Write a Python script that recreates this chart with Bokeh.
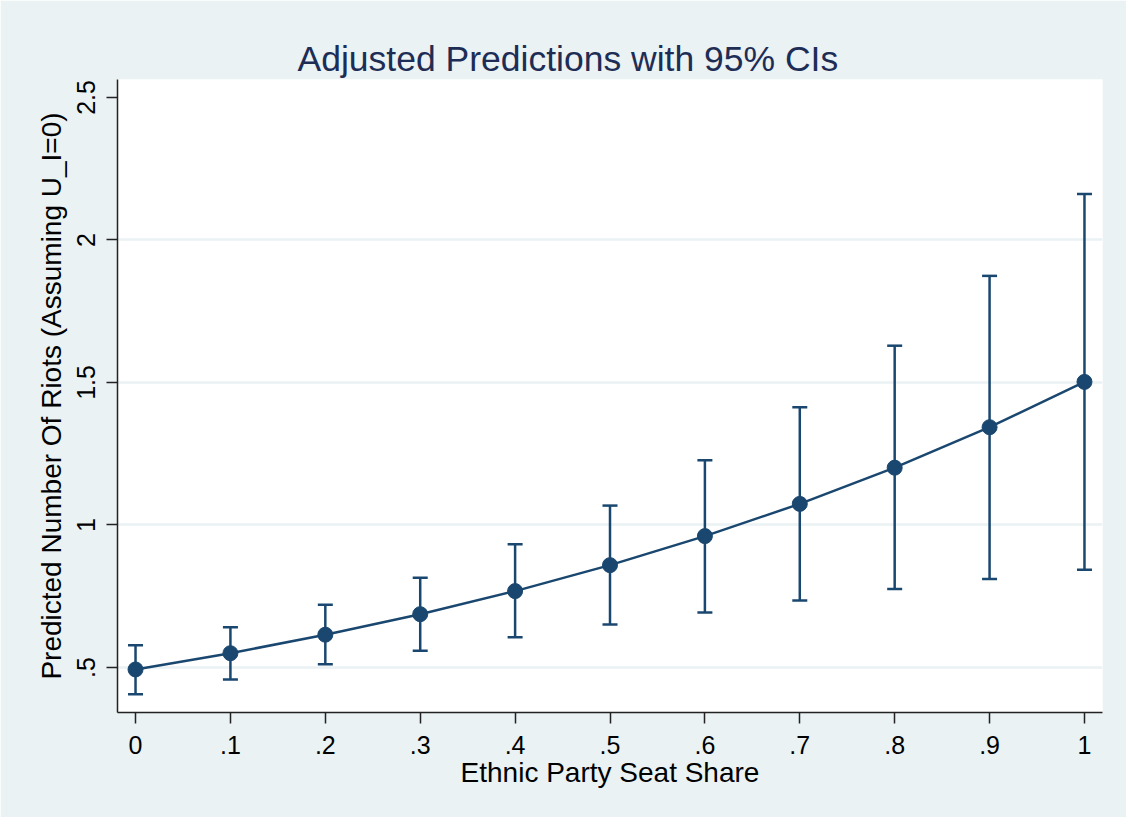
from bokeh.plotting import figure
from bokeh.models import ColumnDataSource, Whisker, TeeHead, FixedTicker, Title
from bokeh.embed import file_html
from bokeh.resources import INLINE

seat_share = [0.0, 0.1, 0.2, 0.3, 0.4, 0.5, 0.6, 0.7, 0.8, 0.9, 1.0]
predicted = [0.493, 0.550, 0.615, 0.687, 0.768, 0.859, 0.961, 1.074, 1.201, 1.343, 1.502]
ci_lower = [0.406, 0.458, 0.511, 0.559, 0.606, 0.651, 0.693, 0.735, 0.775, 0.810, 0.843]
ci_upper = [0.578, 0.641, 0.720, 0.815, 0.932, 1.068, 1.227, 1.413, 1.629, 1.874, 2.161]

x_ticks = [0.0, 0.1, 0.2, 0.3, 0.4, 0.5, 0.6, 0.7, 0.8, 0.9, 1.0]
x_tick_labels = ["0", ".1", ".2", ".3", ".4", ".5", ".6", ".7", ".8", ".9", "1"]
y_ticks = [0.5, 1.0, 1.5, 2.0, 2.5]
y_tick_labels = [".5", "1", "1.5", "2", "2.5"]
y_grid = [0.5, 1.0, 1.5, 2.0]

NAVY = "#1A476F"
BG = "#EAF2F3"
FONT = "Liberation Sans"

src = ColumnDataSource(dict(x=seat_share, y=predicted, lo=ci_lower, hi=ci_upper))

p = figure(width=1126, height=817, output_backend="svg", toolbar_location=None,
           x_range=(-0.019, 1.019), y_range=(0.342, 2.563),
           min_border_left=117, min_border_right=24, min_border_top=79, min_border_bottom=105)
p.background_fill_color = "white"
p.border_fill_color = BG
p.outline_line_color = None

t = Title(text="Adjusted Predictions with 95% CIs", align="left", offset=180,
          text_font=FONT, text_font_size="35.5px", text_font_style="normal",
          text_color="#1E2D55", standoff=2)
p.add_layout(t, "above")

w = Whisker(source=src, base="x", lower="lo", upper="hi",
            line_color=NAVY, line_width=2.5,
            upper_head=TeeHead(size=15, line_color=NAVY, line_width=2.5),
            lower_head=TeeHead(size=15, line_color=NAVY, line_width=2.5))
p.add_layout(w)
p.line("x", "y", source=src, line_color=NAVY, line_width=2.5)
p.scatter("x", "y", source=src, size=15, fill_color=NAVY, line_color=NAVY)

p.xaxis.ticker = FixedTicker(ticks=x_ticks)
p.xaxis.major_label_overrides = {v: s for v, s in zip(x_ticks, x_tick_labels)}
p.yaxis.ticker = FixedTicker(ticks=y_ticks)
p.yaxis.major_label_overrides = {v: s for v, s in zip(y_ticks, y_tick_labels)}
p.yaxis.major_label_orientation = "vertical"

for ax in (p.xaxis, p.yaxis):
    ax.axis_line_color = "#222222"
    ax.axis_line_width = 1.5
    ax.major_tick_line_color = "#222222"
    ax.major_tick_line_width = 1.5
    ax.major_tick_out = 11
    ax.major_tick_in = 0
    ax.minor_tick_line_color = None
    ax.major_label_text_font = FONT
    ax.major_label_text_font_size = "25px"
    ax.major_label_text_color = "black"
    ax.axis_label_text_font = FONT
    ax.axis_label_text_font_size = "28px"
    ax.axis_label_text_font_style = "normal"
    ax.axis_label_text_color = "black"

p.xaxis.major_label_standoff = 12
p.yaxis.major_label_standoff = 11
p.xaxis.axis_label = "Ethnic Party Seat Share"
p.yaxis.axis_label = "Predicted Number Of Riots (Assuming U_I=0)"
p.xaxis.axis_label_standoff = 0
p.yaxis.axis_label_standoff = 8

p.xgrid.grid_line_color = None
p.ygrid.ticker = FixedTicker(ticks=y_grid)
p.ygrid.grid_line_color = BG
p.ygrid.grid_line_width = 2.3

open("out.html", "w").write(file_html(p, INLINE))
